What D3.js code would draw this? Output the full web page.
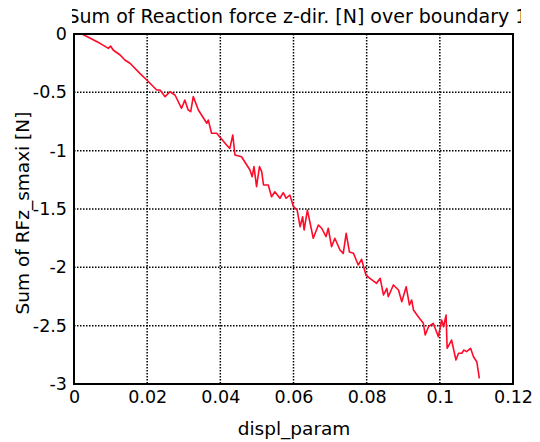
<!DOCTYPE html>
<html><head><meta charset="utf-8">
<script src="https://cdn.jsdelivr.net/npm/d3@7"></script>
<style>
html,body{margin:0;padding:0;background:#fff;}
text{font-family:"DejaVu Sans",Verdana,sans-serif;fill:#000;}
</style></head>
<body>
<svg id="chart" width="540" height="442"></svg>
<script>
const titleText = "Sum of Reaction force z-dir. [N] over boundary 11";
const xLabel = "displ_param";
const yLabel = "Sum of RFz_smaxi [N]";
const xTicks = [0, 0.02, 0.04, 0.06, 0.08, 0.1, 0.12];
const xTickLabels = ["0", "0.02", "0.04", "0.06", "0.08", "0.1", "0.12"];
const yTicks = [0, -0.5, -1, -1.5, -2, -2.5, -3];
const yTickLabels = ["0", "-0.5", "-1", "-1.5", "-2", "-2.5", "-3"];

const displParam = [
0.0022,0.0071,0.0094,0.0100,0.0107,0.0126,0.0139,0.0153,0.0180,0.0199,
0.0226,0.0235,0.0249,0.0262,0.0276,0.0294,0.0303,0.0312,0.0319,0.0326,
0.0340,0.0363,0.0367,0.0376,0.0390,0.0417,0.0426,0.0434,0.0440,0.0458,
0.0481,0.0487,0.0492,0.0499,0.0507,0.0513,0.0518,0.0531,0.0540,0.0549,
0.0563,0.0572,0.0580,0.0590,0.0600,0.0610,0.0618,0.0625,0.0629,0.0638,
0.0654,0.0668,0.0677,0.0689,0.0695,0.0704,0.0713,0.0727,0.0736,0.0744,
0.0753,0.0764,0.0777,0.0786,0.0798,0.0809,0.0827,0.0837,0.0846,0.0855,
0.0859,0.0873,0.0887,0.0896,0.0908,0.0917,0.0923,0.0928,0.0941,0.0955,
0.0960,0.0969,0.0982,0.0996,0.1005,0.1010,0.1017,0.1020,0.1032,0.1044,
0.1051,0.1060,0.1066,0.1073,0.1084,0.1092,0.1101,0.1108
];
const rfz = [
0,-0.080,-0.123,-0.103,-0.137,-0.180,-0.223,-0.251,-0.337,-0.394,
-0.480,-0.480,-0.537,-0.495,-0.523,-0.637,-0.566,-0.651,-0.666,-0.537,
-0.651,-0.765,-0.737,-0.851,-0.851,-0.951,-0.980,-0.866,-1.037,-1.052,
-1.166,-1.223,-1.137,-1.309,-1.137,-1.180,-1.294,-1.294,-1.395,-1.352,
-1.408,-1.360,-1.408,-1.380,-1.480,-1.509,-1.652,-1.566,-1.680,-1.509,
-1.751,-1.637,-1.665,-1.737,-1.665,-1.823,-1.751,-1.851,-1.880,-1.708,
-1.869,-1.880,-1.980,-1.931,-2.066,-2.094,-2.137,-2.094,-2.237,-2.180,
-2.252,-2.151,-2.194,-2.295,-2.166,-2.323,-2.280,-2.366,-2.423,-2.480,
-2.580,-2.509,-2.480,-2.595,-2.451,-2.509,-2.409,-2.694,-2.623,-2.794,
-2.737,-2.737,-2.709,-2.723,-2.694,-2.766,-2.809,-2.951
];

const svg = d3.select("#chart");
const L = 74, R = 513, T = 34, B = 384;
const x = d3.scaleLinear().domain([0, 0.12]).range([L, R]);
const y = d3.scaleLinear().domain([0, -3]).range([T, B]);

// title, clipped on both sides (as in the reference)
svg.append("clipPath").attr("id","tclip").append("rect")
  .attr("x",72).attr("y",0).attr("width",449).attr("height",33);
svg.append("text").attr("clip-path","url(#tclip)")
  .attr("x",67.5).attr("y",23).attr("text-anchor","start")
  .style("font-size","19px").text(titleText);

// grid
const grid = svg.append("g");
grid.selectAll(".vg").data(xTicks.slice(1,-1)).enter().append("line")
  .attr("x1",d=>x(d)).attr("x2",d=>x(d)).attr("y1",T).attr("y2",B)
  .attr("stroke","#000").attr("stroke-width",1.5).attr("stroke-dasharray","1.5,1.5");
grid.selectAll(".hg").data(yTicks.slice(1,-1)).enter().append("line")
  .attr("y1",d=>y(d)).attr("y2",d=>y(d)).attr("x1",L).attr("x2",R)
  .attr("stroke","#000").attr("stroke-width",1.5).attr("stroke-dasharray","1.5,1.5");

// axes via d3
const xAxis = d3.axisBottom(x).tickValues(xTicks).tickSize(0).tickPadding(7)
  .tickFormat((d,i)=>xTickLabels[i]);
const gx = svg.append("g").attr("transform",`translate(0,${B})`).call(xAxis);
gx.select(".domain").remove();
gx.selectAll("text").style("font-size","17.5px").style("font-family","DejaVu Sans");

const yAxis = d3.axisLeft(y).tickValues(yTicks).tickSize(0).tickPadding(7)
  .tickFormat((d,i)=>yTickLabels[i]);
const gy = svg.append("g").attr("transform",`translate(${L},0)`).call(yAxis);
gy.select(".domain").remove();
gy.selectAll("text").style("font-size","17.5px").style("font-family","DejaVu Sans");

// line
const pts = displParam.map((d,i)=>[d, rfz[i]]);
svg.append("path").datum(pts)
  .attr("fill","none").attr("stroke","#ff0a28").attr("stroke-width",1.6)
  .attr("stroke-linejoin","round")
  .attr("d", d3.line().x(d=>x(d[0])).y(d=>y(d[1])));

// frame
svg.append("rect").attr("x",L).attr("y",T).attr("width",R-L).attr("height",B-T)
  .attr("fill","none").attr("stroke","#000").attr("stroke-width",2);

// axis labels
svg.append("text").attr("x",294).attr("y",435).attr("text-anchor","middle")
  .style("font-size","18.5px").text(xLabel);
svg.append("text").attr("transform",`translate(29,${(T+B)/2 + 4}) rotate(-90)`)
  .attr("text-anchor","middle").style("font-size","18.5px").text(yLabel);
</script>
</body></html>
